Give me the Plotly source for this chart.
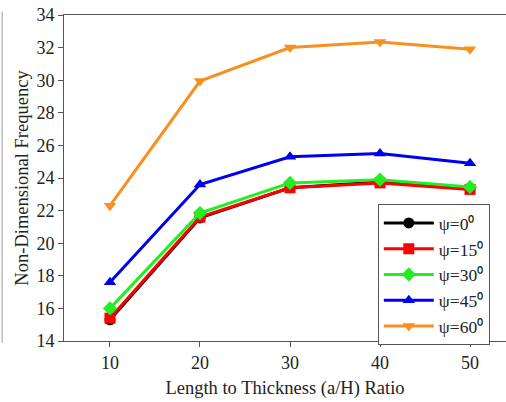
import plotly.graph_objects as go

ratio = [10, 20, 30, 40, 50]
psi_0 = [15.3, 21.55, 23.4, 23.75, 23.35]
psi_15 = [15.4, 21.6, 23.4, 23.7, 23.3]
psi_30 = [16.0, 21.85, 23.7, 23.9, 23.45]
psi_45 = [17.6, 23.6, 25.3, 25.5, 24.9]
psi_60 = [22.3, 29.95, 32.0, 32.35, 31.9]

series = [
    ("ψ=0⁰", psi_0, "#000000", "circle"),
    ("ψ=15⁰", psi_15, "#ff0000", "square"),
    ("ψ=30⁰", psi_30, "#22ee22", "diamond"),
    ("ψ=45⁰", psi_45, "#0000ee", "triangle-up"),
    ("ψ=60⁰", psi_60, "#f7901e", "triangle-down"),
]

font = "Liberation Serif"

fig = go.Figure()
for name, vals, color, sym in series:
    fig.add_trace(go.Scatter(
        x=ratio, y=vals, name=name, mode="lines+markers",
        line=dict(color=color, width=3),
        marker=dict(symbol=sym, size=11, color=color),
    ))

fig.update_layout(
    width=506, height=402,
    margin=dict(l=64, r=0, t=15, b=61),
    paper_bgcolor="white", plot_bgcolor="white",
    font=dict(family=font, size=16, color="#222"),
    showlegend=True,
    legend=dict(
        x=0.71, y=0.42, xanchor="left", yanchor="top",
        bordercolor="#555", borderwidth=1, bgcolor="white",
        font=dict(family=font, size=17.5, color="#222"),
        itemwidth=50, tracegroupgap=0,
    ),
    shapes=[dict(type="line", xref="paper", yref="paper",
                 x0=-0.14, x1=-0.14, y0=-0.005, y1=1.01,
                 line=dict(color="#999", width=1))],
)

fig.update_xaxes(
    range=[4.89, 54], tickvals=ratio, ticks="outside", ticklen=5,
    showline=True, linecolor="#555", linewidth=1, mirror=True,
    tickcolor="#555", showgrid=False, zeroline=False,
    tickfont=dict(family=font, size=18),
    title=dict(text="Length to Thickness (a/H) Ratio", font=dict(family=font, size=18.5), standoff=9),
)
fig.update_yaxes(
    range=[14, 34], dtick=2, ticks="outside", ticklen=5,
    showline=True, linecolor="#555", linewidth=1, mirror=False,
    tickcolor="#555", showgrid=False, zeroline=False,
    tickfont=dict(family=font, size=18),
    title=dict(text="Non-Dimensional Frequency", font=dict(family=font, size=18.5), standoff=2),
)

fig.write_html("out.html")
